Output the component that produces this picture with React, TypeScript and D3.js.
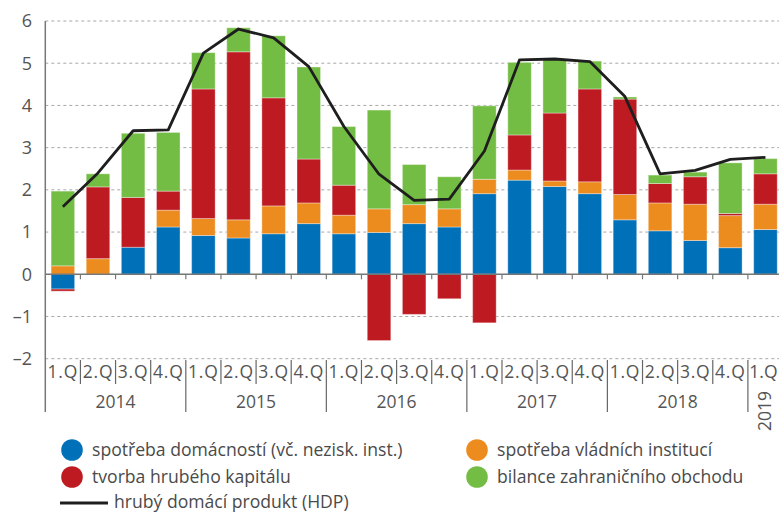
import React from "react";
import * as d3 from "d3";

// quarters 2014Q1 .. 2019Q1
const quarters = ["1.Q", "2.Q", "3.Q", "4.Q", "1.Q", "2.Q", "3.Q", "4.Q", "1.Q", "2.Q", "3.Q", "4.Q",
  "1.Q", "2.Q", "3.Q", "4.Q", "1.Q", "2.Q", "3.Q", "4.Q", "1.Q"];
const years = ["2014", "2015", "2016", "2017", "2018", "2019"];

const households = [-0.35, 0, 0.64, 1.12, 0.92, 0.86, 0.96, 1.2, 0.96, 0.99, 1.2, 1.12, 1.91, 2.23, 2.08, 1.91, 1.29, 1.03, 0.8, 0.63, 1.06];
const government = [0.2, 0.37, 0, 0.4, 0.4, 0.43, 0.66, 0.49, 0.44, 0.56, 0.45, 0.43, 0.34, 0.24, 0.13, 0.28, 0.6, 0.66, 0.86, 0.76, 0.6];
const capital = [-0.05, 1.7, 1.18, 0.45, 3.07, 3.98, 2.56, 1.04, 0.71, -1.57, -0.95, -0.58, -1.15, 0.83, 1.61, 2.2, 2.26, 0.46, 0.65, 0.05, 0.72];
const trade = [1.77, 0.31, 1.52, 1.39, 0.86, 0.57, 1.47, 2.18, 1.39, 2.34, 0.95, 0.76, 1.74, 1.72, 1.27, 0.66, 0.05, 0.2, 0.11, 1.2, 0.36];
const gdp = [1.6, 2.4, 3.4, 3.42, 5.24, 5.81, 5.6, 4.92, 3.5, 2.37, 1.75, 1.78, 2.92, 5.08, 5.1, 5.04, 4.21, 2.38, 2.46, 2.72, 2.77];

const seriesKeys = ["households", "government", "capital", "trade"];
const seriesColors = ["#0070b8", "#ec8b1e", "#be1a21", "#74bd44"];
const seriesLabels = [
  "spotřeba domácností (vč. nezisk. inst.)",
  "spotřeba vládních institucí",
  "tvorba hrubého kapitálu",
  "bilance zahraničního obchodu",
];
const lineLabel = "hrubý domácí produkt (HDP)";
const yTicks = [-2, -1, 0, 1, 2, 3, 4, 5, 6];

const W = 779;
const H = 513;
const FONT = "'Open Sans', sans-serif";

export default function App() {
  const left = 45.3;
  const step = 35.13;
  const idx = quarters.map((_, i) => i);
  const x = d3.scaleBand<number>().domain(idx).range([left, left + step * quarters.length]).padding(0);
  const y = d3.scaleLinear().domain([-2, 6]).range([358.7, 21]);
  const barW = x.bandwidth() * 0.67;

  const rows = idx.map(i => ({
    households: households[i],
    government: government[i],
    capital: capital[i],
    trade: trade[i],
  }));
  const stacked = d3.stack<any>().keys(seriesKeys).offset(d3.stackOffsetDiverging)(rows);

  const line = d3.line<number>()
    .x((_, i) => (x(i) as number) + x.bandwidth() / 2)
    .y(d => y(d));

  const right = W;
  const sepTop = 360;
  const qSepBottom = 384;
  const ySepBottom = 412;

  // legend: household / government on first row, capital / trade on second
  const legendPos = [[72, 450], [477, 450], [72, 477], [477, 477]];

  return (
    <svg width={W} height={H} style={{ position: "absolute", left: 0, top: 0, display: "block" }} fontFamily={FONT}>
      {/* grid */}
      {yTicks.filter(t => t !== 0).map(t => (
        <line key={t} x1={left} x2={right} y1={y(t)} y2={y(t)} stroke="#a8a8a8" strokeWidth={1} strokeDasharray="3,3" />
      ))}
      {yTicks.map(t => (
        <text key={t} x={32} y={y(t)} dy="0.35em" textAnchor="end" fontSize={18} fill="#555">
          {t < 0 ? "–" + Math.abs(t) : t}
        </text>
      ))}

      {/* bars */}
      {stacked.map((s, si) => (
        <g key={s.key} fill={seriesColors[si]}>
          {s.map((d, i) => {
            const h = Math.abs(y(d[0]) - y(d[1]));
            if (h < 0.01) return null;
            return (
              <rect key={i} x={(x(i) as number) + (x.bandwidth() - barW) / 2} y={Math.min(y(d[0]), y(d[1]))}
                width={barW} height={h} stroke="#ffffff" strokeOpacity={0.35} strokeWidth={1} />
            );
          })}
        </g>
      ))}

      {/* zero axis with ticks */}
      <line x1={left} x2={right} y1={y(0)} y2={y(0)} stroke="#777" strokeWidth={1.5} />
      {idx.map(i => (
        <line key={i} x1={(x(i) as number) + step} x2={(x(i) as number) + step} y1={y(0)} y2={y(0) + 5} stroke="#777" strokeWidth={1.2} />
      ))}

      {/* y axis */}
      <line x1={left} x2={left} y1={y(6)} y2={ySepBottom} stroke="#777" strokeWidth={1.5} />

      {/* GDP line */}
      <path d={line(gdp) || ""} fill="none" stroke="#1e1e1e" strokeWidth={2.8} strokeLinejoin="round" />

      {/* x labels */}
      {quarters.map((q, i) => (
        <text key={i} x={(x(i) as number) + step / 2 - (i === quarters.length - 1 ? 2 : 0)} y={378} textAnchor="middle"
          fontSize={17.5} letterSpacing={i === quarters.length - 1 ? 0 : 0.8} fill="#555">{q}</text>
      ))}
      {idx.slice(1).map(i => (
        <line key={i} x1={x(i)} x2={x(i)} y1={sepTop} y2={i % 4 === 0 ? ySepBottom : qSepBottom} stroke="#666" strokeWidth={1.2} />
      ))}
      {years.slice(0, 5).map((yr, k) => (
        <text key={yr} x={(x(k * 4) as number) + step * 2} y={408} textAnchor="middle" fontSize={17.5} fill="#555">{yr}</text>
      ))}
      <text transform={`translate(${(x(20) as number) + step / 2 + 6},${411}) rotate(-90)`} textAnchor="middle" fontSize={17.5} fill="#555">{years[5]}</text>

      {/* legend */}
      {seriesLabels.map((lab, k) => {
        const [lx, ly] = legendPos[k];
        return (
          <g key={k}>
            <circle cx={lx} cy={ly} r={10.8} fill={seriesColors[k]} />
            <text x={lx + 20} y={ly + 6} fontSize={17.6} fill="#4a4a4a">{lab}</text>
          </g>
        );
      })}
      <line x1={60} x2={108} y1={503} y2={503} stroke="#1e1e1e" strokeWidth={2.8} />
      <text x={114} y={508} fontSize={17.6} fill="#4a4a4a">{lineLabel}</text>
    </svg>
  );
}
